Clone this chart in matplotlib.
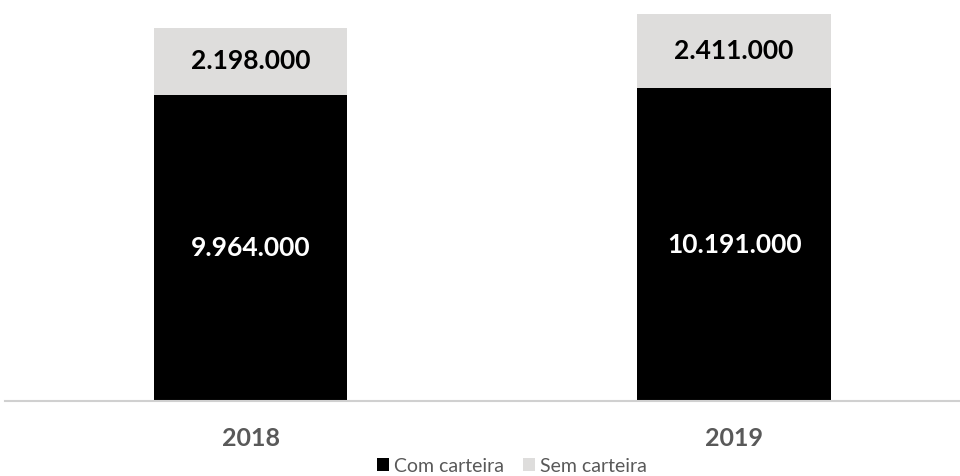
import numpy as np
import matplotlib.pyplot as plt
from matplotlib.patches import Patch

plt.rcParams['font.family'] = ['Lato', 'DejaVu Sans']

years = ["2018", "2019"]
com_carteira = [9964000, 10191000]
sem_carteira = [2198000, 2411000]
series_names = ["Com carteira", "Sem carteira"]


def fmt(v):
    return f"{v:,}".replace(",", ".")


fig = plt.figure(figsize=(9.6, 4.76), dpi=100)
ax = fig.add_axes([5 / 960, 75 / 476, 955 / 960, 401 / 476])

x = np.arange(len(years))
b1 = ax.bar(x, com_carteira, width=0.4, color="black", edgecolor="none")
b2 = ax.bar(x, sem_carteira, width=0.4, bottom=com_carteira,
            color="#dedddc", edgecolor="none")

for i in range(len(years)):
    ax.text(x[i], com_carteira[i] / 2, fmt(com_carteira[i]),
            ha="center", va="center", color="white",
            fontsize=19, fontweight="bold")
    ax.text(x[i], com_carteira[i] + sem_carteira[i] / 2, fmt(sem_carteira[i]),
            ha="center", va="center", color="black",
            fontsize=19, fontweight="bold")

ax.set_xlim(-0.508, 1.467)
ax.set_ylim(0, 13.06e6)
ax.set_xticks(x)
ax.set_xticklabels(years, fontsize=18, fontweight="bold", color="#595959")
ax.tick_params(axis="x", length=0, pad=19)
ax.set_yticks([])
for s in ["top", "right", "left"]:
    ax.spines[s].set_visible(False)
ax.spines["bottom"].set_color("#d0d0d0")
ax.spines["bottom"].set_linewidth(1.5)

handles = [Patch(facecolor="black"), Patch(facecolor="#dedddc")]
fig.legend(handles, series_names, loc="center", bbox_to_anchor=(512 / 960, 1 - 466 / 476),
           ncol=2, frameon=False, fontsize=14, labelcolor="#595959",
           handlelength=0.6, handleheight=0.6, handletextpad=0.25, columnspacing=1.0)

fig.savefig("out.png", dpi=100)
